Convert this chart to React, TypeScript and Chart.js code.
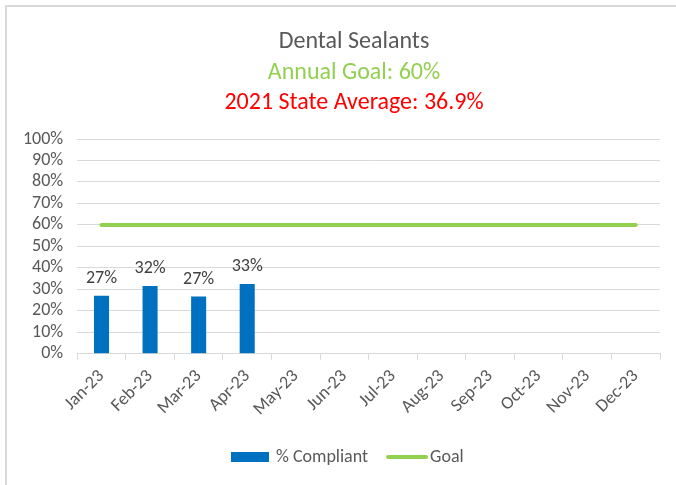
import React, { useEffect, useRef } from "react";
import { Chart, registerables } from "chart.js";

Chart.register(...registerables);

const categories = ["Jan-23", "Feb-23", "Mar-23", "Apr-23", "May-23", "Jun-23", "Jul-23", "Aug-23", "Sep-23", "Oct-23", "Nov-23", "Dec-23"];
const compliant: (number | null)[] = [0.27, 0.315, 0.266, 0.325, null, null, null, null, null, null, null, null];
const goal = [0.6, 0.6, 0.6, 0.6, 0.6, 0.6, 0.6, 0.6, 0.6, 0.6, 0.6, 0.6];
const titleLines = [
  { text: "Dental Sealants", color: "#595959" },
  { text: "Annual Goal: 60%", color: "#92D050" },
  { text: "2021 State Average: 36.9%", color: "#FF0000" },
];
const legendItems = [
  { text: "% Compliant", color: "#0070C0", kind: "box" },
  { text: "Goal", color: "#92D050", kind: "line" },
];

const FONT = "Calibri, Carlito, sans-serif";

const decorPlugin = {
  id: "decor",
  beforeDraw(chart: any) {
    const ctx = chart.ctx;
    ctx.save();
    ctx.fillStyle = "#ffffff";
    ctx.fillRect(0, 0, chart.width, chart.height);
    ctx.strokeStyle = "#d9d9d9";
    ctx.lineWidth = 2;
    ctx.beginPath();
    ctx.moveTo(6, chart.height);
    ctx.lineTo(6, 6);
    ctx.lineTo(chart.width, 6);
    ctx.stroke();
    ctx.restore();
  },
  afterDraw(chart: any) {
    const ctx = chart.ctx;
    ctx.save();
    ctx.textAlign = "center";
    ctx.textBaseline = "middle";
    ctx.font = `24px ${FONT}`;
    const ys = [42, 73, 103];
    titleLines.forEach((l, i) => {
      ctx.fillStyle = l.color;
      ctx.fillText(l.text, 354, ys[i]);
    });
    // data labels
    const meta = chart.getDatasetMeta(0);
    ctx.font = `18px ${FONT}`;
    ctx.fillStyle = "#404040";
    ctx.textBaseline = "alphabetic";
    meta.data.forEach((bar: any, i: number) => {
      const v = compliant[i];
      if (v == null) return;
      ctx.fillText(Math.round(v * 100) + "%", bar.x, bar.y - 13);
    });
    // legend
    ctx.font = `18px ${FONT}`;
    ctx.textAlign = "left";
    ctx.textBaseline = "middle";
    const ly = 457;
    let x = 231;
    legendItems.forEach((it) => {
      if (it.kind === "box") {
        ctx.fillStyle = it.color;
        ctx.fillRect(x, ly - 5, 38, 10);
        x += 45;
      } else {
        ctx.strokeStyle = it.color;
        ctx.lineWidth = 4;
        ctx.lineCap = "round";
        ctx.beginPath();
        ctx.moveTo(x + 2, ly);
        ctx.lineTo(x + 40, ly);
        ctx.stroke();
        x += 44;
      }
      ctx.fillStyle = "#595959";
      ctx.fillText(it.text, x, ly);
      x += ctx.measureText(it.text).width + 18;
    });
    ctx.restore();
  },
};

export default function App() {
  const ref = useRef<HTMLCanvasElement>(null);
  useEffect(() => {
    document.body.style.margin = "0";
    const chart = new Chart(ref.current!, {
      type: "bar",
      data: {
        labels: categories,
        datasets: [
          {
            label: "% Compliant",
            data: compliant,
            backgroundColor: "#0070C0",
            borderWidth: 0,
            barPercentage: 0.62,
            categoryPercentage: 0.5,
            order: 2,
          },
          {
            type: "line",
            label: "Goal",
            data: goal,
            borderColor: "#92D050",
            backgroundColor: "#92D050",
            borderWidth: 4,
            borderCapStyle: "round",
            pointRadius: 0,
            order: 1,
          } as any,
        ],
      },
      options: {
        animation: false,
        responsive: false,
        maintainAspectRatio: false,
        layout: { padding: { top: 139, left: 9, right: 16, bottom: 59 } },
        plugins: {
          title: { display: false },
          tooltip: { enabled: false },
          legend: { display: false },
        },
        scales: {
          x: {
            grid: { display: true, drawOnChartArea: false, color: "#d9d9d9", tickLength: 6, offset: true },
            border: { color: "#d9d9d9", width: 1 },
            ticks: { color: "#595959", font: { size: 18, family: FONT }, maxRotation: 45, minRotation: 45, padding: 6, autoSkip: false },
          },
          y: {
            min: 0,
            max: 1,
            ticks: {
              stepSize: 0.1,
              autoSkip: false,
              color: "#595959",
              font: { size: 18, family: FONT },
              padding: 14,
              callback: (v: any) => Math.round(Number(v) * 100) + "%",
            },
            grid: { color: "#d9d9d9", lineWidth: 1, drawTicks: false },
            border: { display: false },
          },
        },
      },
      plugins: [decorPlugin],
    });
    return () => chart.destroy();
  }, []);
  return <canvas ref={ref} width={676} height={485} style={{ display: "block" }} />;
}
